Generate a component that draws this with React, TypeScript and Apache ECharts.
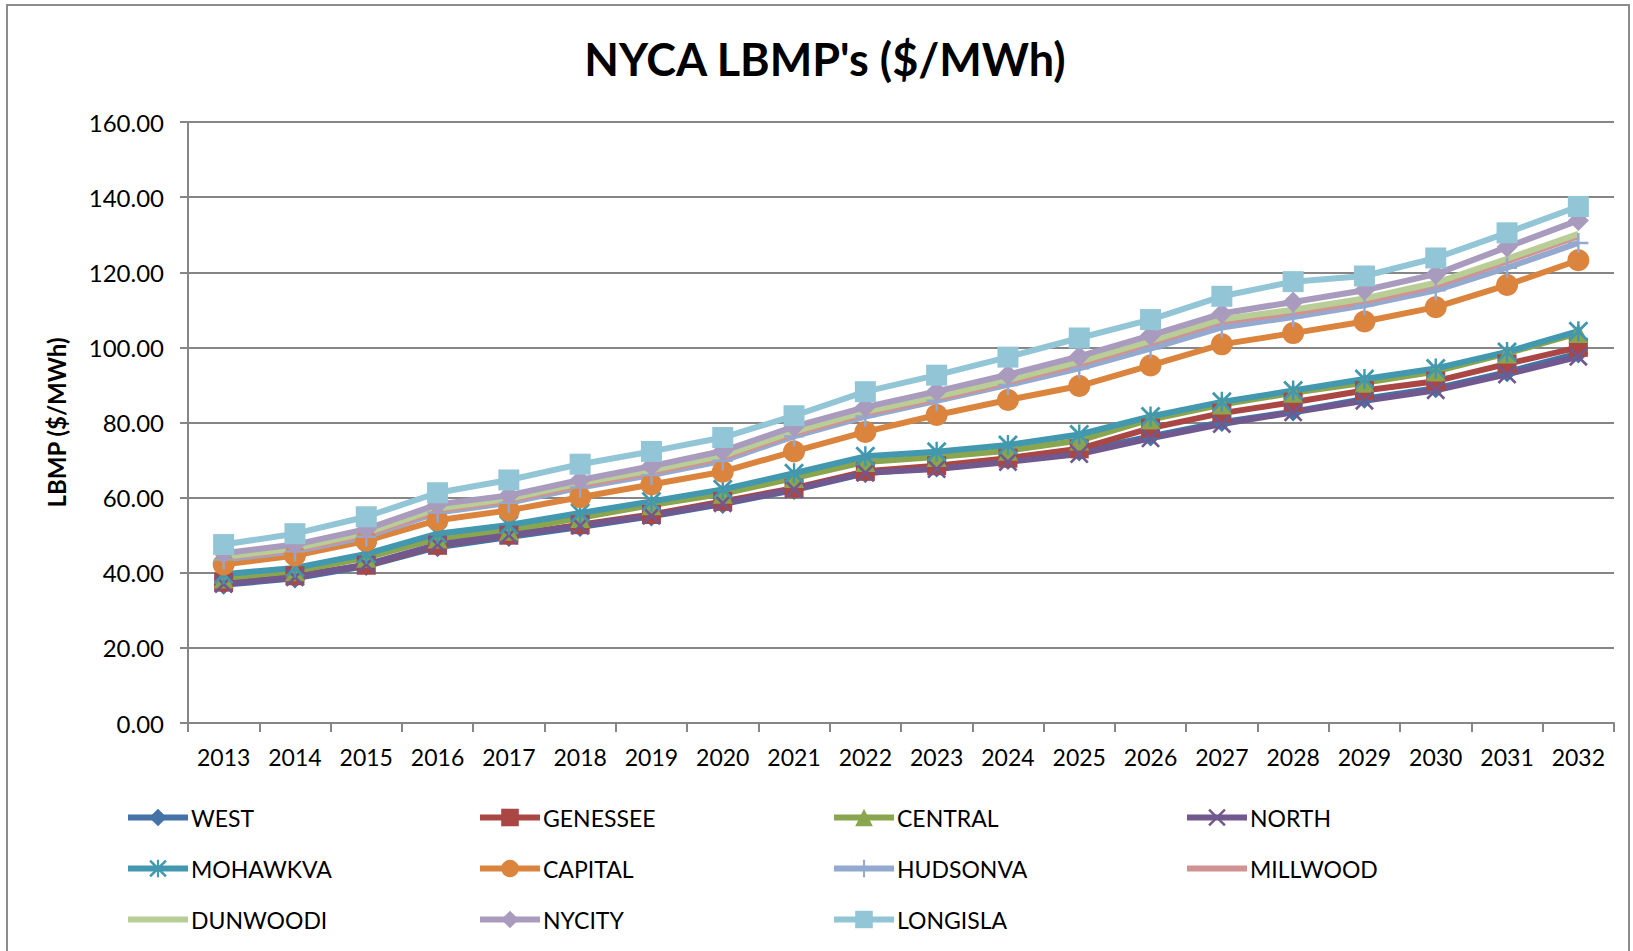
import React, { useEffect, useRef } from "react";
import * as echarts from "echarts";

const years = ["2013","2014","2015","2016","2017","2018","2019","2020","2021","2022","2023","2024","2025","2026","2027","2028","2029","2030","2031","2032"];
const yTicks = [0, 20, 40, 60, 80, 100, 120, 140, 160];

const WEST = [36.8, 38.5, 41.8, 46.8, 49.5, 52.2, 55.0, 58.3, 62.0, 66.5, 68.0, 70.0, 72.3, 76.3, 80.1, 82.9, 86.3, 89.1, 93.4, 98.4];
const GENESSEE = [37.5, 39.2, 42.0, 47.3, 50.0, 52.8, 55.5, 59.0, 62.5, 67.0, 68.5, 70.5, 73.0, 78.5, 82.5, 85.4, 88.5, 91.0, 95.6, 100.0];
const CENTRAL = [38.5, 40.4, 44.0, 49.1, 51.2, 54.6, 58.0, 61.0, 65.2, 69.5, 70.8, 72.5, 75.2, 80.8, 84.8, 87.9, 90.6, 93.6, 98.4, 103.8];
const NORTH = [37.0, 38.8, 42.2, 47.5, 50.0, 52.5, 55.2, 58.5, 62.2, 66.6, 67.6, 69.5, 71.6, 75.8, 79.6, 82.7, 85.8, 88.6, 92.8, 97.5];
const MOHAWKVA = [39.6, 41.3, 45.0, 50.4, 52.7, 55.9, 59.0, 62.2, 66.5, 71.0, 72.2, 74.0, 76.8, 81.6, 85.5, 88.5, 91.6, 94.4, 98.8, 104.3];
const CAPITAL = [42.2, 44.6, 48.5, 54.0, 56.6, 60.1, 63.5, 66.9, 72.3, 77.5, 82.0, 86.0, 89.7, 95.2, 100.8, 103.8, 106.9, 110.7, 116.6, 123.2];
const HUDSONVA = [43.5, 45.7, 49.6, 56.0, 58.6, 62.7, 66.0, 69.8, 76.3, 81.6, 85.8, 90.0, 94.4, 99.7, 105.3, 108.1, 111.2, 115.2, 121.2, 127.8];
const MILLWOOD = [43.9, 46.1, 50.1, 56.6, 59.2, 63.3, 66.7, 70.6, 77.0, 82.3, 86.3, 90.7, 95.5, 101.1, 106.8, 109.2, 112.2, 116.4, 122.9, 129.6];
const DUNWOODI = [44.2, 46.5, 50.6, 57.1, 59.7, 63.9, 67.3, 71.2, 77.6, 82.9, 86.9, 91.3, 96.2, 101.7, 107.5, 110.0, 113.0, 117.2, 123.6, 130.2];
const NYCITY = [45.2, 47.5, 51.6, 58.2, 60.6, 64.7, 68.4, 72.4, 78.9, 84.1, 88.3, 92.7, 97.6, 103.2, 109.0, 112.1, 115.2, 119.5, 126.7, 133.8];
const LONGISLA = [47.5, 50.4, 54.9, 61.3, 64.7, 68.9, 72.3, 76.0, 81.8, 88.2, 92.6, 97.4, 102.5, 107.4, 113.6, 117.5, 119.0, 123.8, 130.5, 137.5];

const X_PATH = "path://M0,1 L1,0 L5,4 L9,0 L10,1 L6,5 L10,9 L9,10 L5,6 L1,10 L0,9 L4,5 Z";
const PLUS_PATH = "path://M4.4,0 L5.6,0 L5.6,4.4 L10,4.4 L10,5.6 L5.6,5.6 L5.6,10 L4.4,10 L4.4,5.6 L0,5.6 L0,4.4 L4.4,4.4 Z";
const AST_PATH = "path://M0,1 L1,0 L5,4 L9,0 L10,1 L6,5 L10,9 L9,10 L5,6 L1,10 L0,9 L4,5 Z M4.4,0 L5.6,0 L5.6,10 L4.4,10 Z";

const seriesDefs = [
  { name: "WEST", data: WEST, color: "#4572A7", symbol: "diamond", size: 20 },
  { name: "GENESSEE", data: GENESSEE, color: "#AA4643", symbol: "rect", size: 19 },
  { name: "CENTRAL", data: CENTRAL, color: "#89A54E", symbol: "triangle", size: 20 },
  { name: "NORTH", data: NORTH, color: "#71588F", symbol: X_PATH, size: 19 },
  { name: "MOHAWKVA", data: MOHAWKVA, color: "#4198AF", symbol: AST_PATH, size: 20 },
  { name: "CAPITAL", data: CAPITAL, color: "#DB843D", symbol: "circle", size: 22 },
  { name: "HUDSONVA", data: HUDSONVA, color: "#93A9CF", symbol: PLUS_PATH, size: 20 },
  { name: "MILLWOOD", data: MILLWOOD, color: "#D19392", symbol: "none", size: 0 },
  { name: "DUNWOODI", data: DUNWOODI, color: "#B9CD96", symbol: "none", size: 0 },
  { name: "NYCITY", data: NYCITY, color: "#A99BBD", symbol: "diamond", size: 21 },
  { name: "LONGISLA", data: LONGISLA, color: "#92C5D6", symbol: "rect", size: 21 },
];

const legendCols = [125, 477, 831, 1184];
const legendRows = [806, 857, 908];

const FONT = "Lato";

export default function App() {
  const ref = useRef<HTMLDivElement>(null);
  useEffect(() => {
    if (!ref.current) return;
    const chart = echarts.init(ref.current, null, { renderer: "svg" });
    const legends = seriesDefs.map((s, i) => ({
      data: [s.name],
      left: legendCols[i % 4],
      top: legendRows[Math.floor(i / 4)],
      padding: 0,
      itemWidth: 60,
      itemHeight: 22,
      itemGap: 0,
      lineStyle: { width: 6 },
      itemStyle: s.symbol === "none" ? { opacity: 0 } : {},
      textStyle: { fontSize: 23, color: "#000", fontFamily: FONT, padding: [0, 0, 0, -2] },
      selectedMode: false,
    }));
    chart.setOption({
      animation: false,
      backgroundColor: "#fff",
      graphic: [
        {
          type: "rect",
          shape: { x: 7, y: 5, width: 1622, height: 1000 },
          style: { fill: "none", stroke: "#8c8c8c", lineWidth: 2 },
          silent: true,
        },
        {
          type: "text",
          x: 825,
          y: 59,
          style: {
            text: "NYCA LBMP's ($/MWh)",
            fontSize: 45,
            fontWeight: "bold",
            fontFamily: FONT,
            fill: "#000",
            textAlign: "center",
            textVerticalAlign: "middle",
          },
        },
      ],
      legend: legends,
      grid: { left: 188, right: 19, top: 122, bottom: 228, containLabel: false },
      xAxis: {
        type: "category",
        data: years,
        boundaryGap: true,
        axisLine: { lineStyle: { color: "#868686", width: 2 } },
        axisTick: { show: true, length: 9, lineStyle: { color: "#868686", width: 2 } },
        axisLabel: { fontSize: 23, color: "#000", fontFamily: FONT, margin: 22, interval: 0 },
      },
      yAxis: {
        type: "value",
        min: 0,
        max: 160,
        interval: 20,
        name: "LBMP ($/MWh)",
        nameLocation: "middle",
        nameRotate: 90,
        nameGap: 120,
        nameTextStyle: { fontSize: 24, fontWeight: "bold", color: "#000", fontFamily: FONT },
        axisLine: { show: true, lineStyle: { color: "#868686", width: 2 } },
        axisTick: { show: true, length: 8, lineStyle: { color: "#868686", width: 2 } },
        splitLine: { show: true, lineStyle: { color: "#868686", width: 2 } },
        axisLabel: {
          fontSize: 24,
          color: "#000",
          fontFamily: FONT,
          margin: 24,
          formatter: (v: number) => (yTicks.includes(v) ? v.toFixed(2) : ""),
        },
      },
      series: seriesDefs.map((s) => ({
        name: s.name,
        type: "line",
        data: s.data,
        symbol: s.symbol,
        symbolSize: s.size,
        showSymbol: s.symbol !== "none",
        lineStyle: { color: s.color, width: 6 },
        itemStyle: { color: s.color, borderWidth: 0 },
        emphasis: { disabled: true },
      })),
    });
    return () => chart.dispose();
  }, []);
  return (
    <div
      ref={ref}
      style={{ position: "fixed", left: 0, top: 0, width: 1633, height: 951 }}
    />
  );
}
